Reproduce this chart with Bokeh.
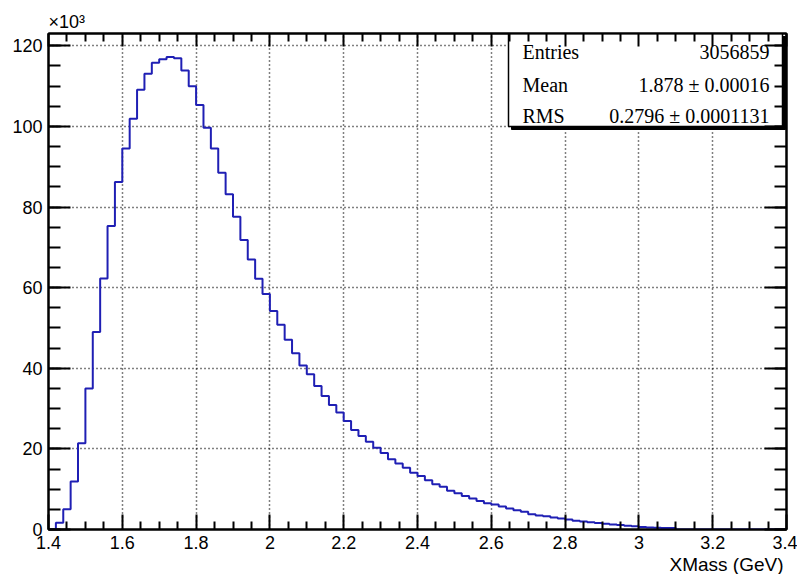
from bokeh.plotting import figure
from bokeh.models import (Range1d, FixedTicker, SingleIntervalTicker, LinearAxis,
                          Label, Title, CustomJSTickFormatter)
from bokeh.embed import file_html
from bokeh.resources import INLINE

# XMass histogram: 100 bins of 0.02 GeV between 1.4 and 3.4 GeV, counts in units of 10^3
x_low = 1.4
x_high = 3.4
n_bins = 100
counts_k = [
    0.0, 1.7, 5.0, 11.9, 21.4, 35.0, 49.0, 62.3, 75.3, 86.2,
    94.5, 101.9, 109.1, 113.1, 115.8, 116.7, 117.2, 116.9, 113.9, 110.0,
    105.3, 99.7, 94.5, 88.5, 83.2, 77.6, 71.8, 67.0, 62.2, 58.4,
    54.2, 50.8, 47.1, 43.7, 40.7, 38.5, 35.6, 33.1, 30.9, 29.0,
    26.9, 24.7, 23.2, 21.8, 20.3, 19.0, 17.4, 16.4, 15.3, 14.1,
    13.3, 12.2, 11.2, 10.6, 9.6, 9.0, 8.3, 7.7, 7.1, 6.5,
    6.2, 5.7, 5.2, 4.8, 4.4, 3.8, 3.5, 3.3, 3.0, 2.7,
    2.5, 2.2, 2.0, 1.8, 1.6, 1.4, 1.25, 1.1, 0.95, 0.8,
    0.6, 0.5, 0.45, 0.4, 0.35, 0.0, 0.0, 0.0, 0.0, 0.0,
    0.0, 0.0, 0.0, 0.0, 0.0, 0.0, 0.0, 0.0, 0.0, 0.0,
]

# x axis tick values
x_major_ticks = [1.4, 1.6, 1.8, 2.0, 2.2, 2.4, 2.6, 2.8, 3.0, 3.2, 3.4]

# statistics box content
stat_names = ["Entries", "Mean", "RMS"]
stat_values = ["3056859", "1.878 \u00b1 0.00016", "0.2796 \u00b1 0.0001131"]

x_axis_title = "XMass (GeV)"
y_multiplier = "\u00d710\u00b3"

bin_w = (x_high - x_low) / n_bins
edges = [x_low + i * bin_w for i in range(n_bins + 1)]
y_top = max(counts_k) * 1.05

W, H = 797, 574
B_LEFT, B_RIGHT, B_TOP, B_BOTTOM = 48, 11, 33, 45
FRAME_W = W - B_LEFT - B_RIGHT
FRAME_H = H - B_TOP - B_BOTTOM


def dx(px):
    """frame pixel offset from the left edge -> data x"""
    return x_low + px * (x_high - x_low) / FRAME_W


def dy(py):
    """frame pixel offset from the top edge -> data y"""
    return y_top - py * y_top / FRAME_H


SANS = "Liberation Sans"
SERIF = "Liberation Serif"
INK = "#000000"

p = figure(width=W, height=H, output_backend="svg", toolbar_location=None,
           x_range=Range1d(x_low, x_high), y_range=Range1d(0, y_top),
           min_border_left=B_LEFT, min_border_right=B_RIGHT,
           min_border_top=B_TOP, min_border_bottom=B_BOTTOM)
p.background_fill_color = "white"
p.border_fill_color = "white"
p.outline_line_color = INK
p.outline_line_width = 2

# minor ticks every 0.05 between the majors
x_minor = []
for a, b in zip(x_major_ticks[:-1], x_major_ticks[1:]):
    step = (b - a) / 4
    x_minor += [a + k * step for k in (1, 2, 3)]
x_ticker = FixedTicker(ticks=x_major_ticks, minor_ticks=x_minor)
y_ticker = SingleIntervalTicker(interval=20, num_minor_ticks=4)
x_fmt = CustomJSTickFormatter(code="return String(Number(tick.toFixed(2)));")


def style_axis(ax, tick_major, tick_minor, show_labels, standoff):
    ax.axis_line_color = INK
    ax.axis_line_width = 2
    ax.major_tick_in = tick_major
    ax.major_tick_out = 0
    ax.minor_tick_in = tick_minor
    ax.minor_tick_out = 0
    ax.major_tick_line_color = INK
    ax.major_tick_line_width = 2
    ax.minor_tick_line_color = INK
    ax.minor_tick_line_width = 2
    ax.major_label_standoff = standoff
    if show_labels:
        ax.major_label_text_font = SANS
        ax.major_label_text_font_size = "18px"
        ax.major_label_text_color = INK
    else:
        ax.major_label_text_font_size = "0px"
        ax.major_label_text_alpha = 0


xa = p.xaxis[0]
xa.ticker = x_ticker
xa.formatter = x_fmt
style_axis(xa, 15, 8, True, 6)

ya = p.yaxis[0]
ya.ticker = y_ticker
style_axis(ya, 22, 12, True, 6)

top_ax = LinearAxis(ticker=x_ticker)
style_axis(top_ax, 13, 8, False, 0)
p.add_layout(top_ax, "above")

right_ax = LinearAxis(ticker=y_ticker)
style_axis(right_ax, 22, 12, False, 0)
p.add_layout(right_ax, "right")

# x axis title, right aligned below the tick labels
p.add_layout(Title(text=x_axis_title, align="right", standoff=0, offset=3,
                   text_font=SANS, text_font_style="normal",
                   text_font_size="19px", text_color=INK), "below")

# y scale multiplier above the top-left corner of the frame
p.add_layout(Title(text=y_multiplier, align="left", standoff=0, offset=0,
                   vertical_align="top",
                   text_font=SANS, text_font_style="normal",
                   text_font_size="18px", text_color=INK), "above")

# dotted grid at major ticks
for g in (p.xgrid[0], p.ygrid[0]):
    g.grid_line_color = INK
    g.grid_line_width = 1.5
    g.grid_line_dash = "1 3"
p.xgrid[0].ticker = x_ticker
p.ygrid[0].ticker = y_ticker

# histogram outline
p.step(x=edges, y=counts_k + [counts_k[-1]], mode="after",
       line_color="#1f1fb4", line_width=2)

# statistics box with drop shadow
box_l, box_r, box_t, box_b = 460, 734, 0, 93
shadow = 3
p.quad(left=dx(box_l + shadow), right=dx(box_r + shadow),
       top=dy(box_t + shadow), bottom=dy(box_b + shadow),
       fill_color=INK, line_color=INK)
p.quad(left=dx(box_l), right=dx(box_r), top=dy(box_t), bottom=dy(box_b),
       fill_color="white", line_color=INK, line_width=1.5)

row_y = [18, 51, 82]
for name, val, ry in zip(stat_names, stat_values, row_y):
    p.add_layout(Label(x=dx(474), y=dy(ry), text=name, text_align="left",
                       text_baseline="middle", text_font=SERIF,
                       text_font_size="20px", text_color=INK))
    p.add_layout(Label(x=dx(721), y=dy(ry), text=val, text_align="right",
                       text_baseline="middle", text_font=SERIF,
                       text_font_size="20px", text_color=INK))

open("out.html", "w").write(file_html(p, INLINE))
